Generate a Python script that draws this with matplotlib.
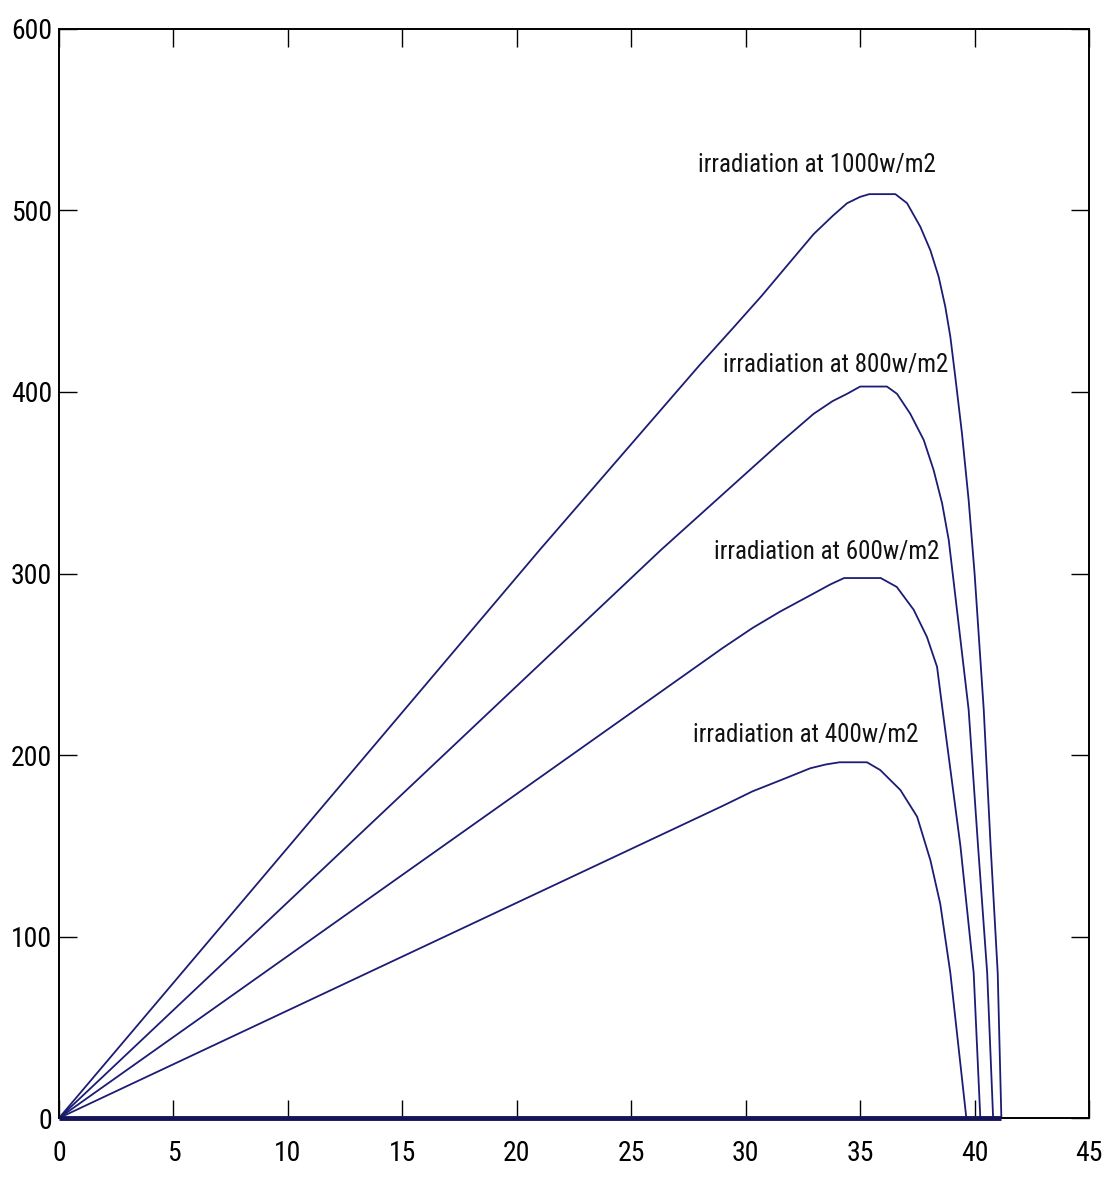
import matplotlib.pyplot as plt

# P-V curves (voltage, power)
v_1000 = [0, 21.0, 28.0, 29.5, 30.7, 31.7, 32.97, 33.8, 34.43, 35.0, 35.4, 36.54, 37.05, 37.63,
          38.07, 38.43, 38.72, 38.94, 39.16, 39.45, 39.74, 40.0, 40.40, 40.70, 41.01, 41.17]
p_1000 = [0, 313, 415, 436, 453, 468, 487, 497, 504, 507.5, 509, 509, 504, 491,
          478, 463.5, 447, 430.5, 408, 377, 340.5, 300, 225, 150, 80, 0]

v_800 = [0, 26.3, 30.0, 31.5, 32.97, 33.8, 34.43, 35.0, 36.17, 36.61, 37.19, 37.78, 38.21, 38.58,
         38.87, 39.09, 39.74, 40.15, 40.55, 40.81]
p_800 = [0, 313, 355, 372, 388, 395, 399, 403, 403, 399, 388, 373.5, 357, 338.7,
         318.5, 295, 225, 150, 80, 0]

v_600 = [0, 29.0, 30.3, 31.5, 32.97, 33.7, 34.3, 35.9, 36.6, 37.34, 37.92, 38.36, 38.6, 39.38,
         39.96, 40.25]
p_600 = [0, 259, 270, 279, 289, 294, 297.5, 297.5, 292.6, 280, 265, 248.6, 225, 150,
         80, 0]

v_400 = [0, 29.0, 30.3, 31.5, 32.82, 33.5, 34.1, 35.3, 35.88, 36.76, 37.49, 38.07, 38.5, 38.94,
         39.64]
p_400 = [0, 172, 180, 186, 192.7, 194.8, 196, 196, 191.7, 180.7, 166, 142, 118, 80,
         0]

labels = ["irradiation at 1000w/m2", "irradiation at 800w/m2",
          "irradiation at 600w/m2", "irradiation at 400w/m2"]
label_pos = [(27.9, 521), (29.0, 411), (28.6, 308), (27.7, 207)]

x_ticks = list(range(0, 46, 5))
y_ticks = list(range(0, 601, 100))

plt.rcParams['font.family'] = ['Roboto Condensed', 'Liberation Sans']

fig = plt.figure(figsize=(11.09, 11.82), dpi=100)
ax = fig.add_axes([0.0532, 0.0541, 0.9288, 0.9214])

line_col = '#1c1c74'
for v, p in [(v_1000, p_1000), (v_800, p_800), (v_600, p_600), (v_400, p_400)]:
    ax.plot(v, p, color=line_col, lw=1.3)

# thick line along the bottom up to the open-circuit voltage
ax.plot([0, max(v_1000)], [0, 0], color='#14145a', lw=3.5, solid_capstyle='butt',
        zorder=3, clip_on=False)

for txt, (x, y) in zip(labels, label_pos):
    ax.text(x, y, txt, fontsize=18, color='#111111', ha='left', va='baseline')

ax.set_xlim(0, 45)
ax.set_ylim(0, 600)
ax.set_xticks(x_ticks)
ax.set_yticks(y_ticks)
ax.tick_params(direction='in', length=13, width=1, top=True, right=True,
               labelsize=20, colors='black')
ax.tick_params(axis='x', pad=16)
ax.tick_params(axis='y', pad=5)
for s in ax.spines.values():
    s.set_linewidth(1.4)

plt.savefig('out.png', dpi=100)
